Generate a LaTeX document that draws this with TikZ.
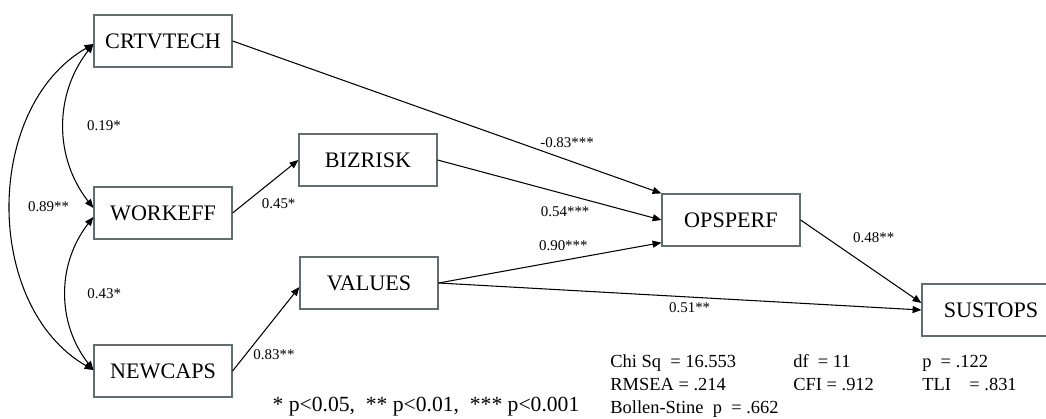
\documentclass[tikz,border=0pt]{standalone}
\usepackage{fontspec}
\setmainfont{Liberation Serif}
\usetikzlibrary{arrows.meta,positioning,calc}
\definecolor{boxgray}{RGB}{95,110,110}
\tikzset{
var/.style={draw=boxgray, line width=0.7pt, minimum width=2.76cm, minimum height=1.04cm, inner sep=0pt, font=\fontsize{12.6}{15}\selectfont},
effect/.style={-{Triangle[length=5pt,width=4pt]}, line width=0.6pt},
cov/.style={{Triangle[length=5pt,width=4pt]}-{Triangle[length=5pt,width=4pt]}, line width=0.6pt},
coef/.style={font=\fontsize{8.5}{10}\selectfont, inner sep=1pt},
}

\begin{document}
\begin{tikzpicture}[x=0.02cm, y=-0.02cm]
    \useasboundingbox (0,0) rectangle (1046,419);

    % variables
    \node[var] (CRTVTECH) at (163,41) {CRTVTECH};
    \node[var] (WORKEFF) at (163,213) {WORKEFF};
    \node[var] (NEWCAPS) at (163,371) {NEWCAPS};
    \node[var] (BIZRISK) at (368,160) {BIZRISK};
    \node[var] (VALUES) at (369,283) {VALUES};
    \node[var] (OPSPERF) at (731,220) {OPSPERF};
    \node[var] (SUSTOPS) at (991,310) {SUSTOPS};

    % correlations
    \draw[cov] ($(CRTVTECH.west)+(0,3)$) to[bend right=38]
        node[coef, midway, right=12pt] {0.19*} ($(WORKEFF.west)+(0,-5)$);
    \draw[cov] ($(WORKEFF.west)+(0,4)$) to[bend right=38]
        node[coef, midway, right=11pt] {0.43*} ($(NEWCAPS.west)+(0,-1)$);
    \draw[cov] ($(CRTVTECH.west)+(0,3)$) to[bend right=60]
        node[coef, midway, right=8.5pt] {0.89**} ($(NEWCAPS.west)+(0,-1)$);

    % paths
    \draw[effect] (WORKEFF.east) -- (BIZRISK.west)
        node[coef, pos=.7, below=11.5pt] {0.45*};
    \draw[effect] (NEWCAPS.east) -- ($(VALUES.west)+(0,4)$)
        node[coef, pos=.62, below=16pt] {0.83**};
    \draw[effect] (CRTVTECH.east) -- (OPSPERF.north west)
        node[coef, pos=.78, above=5.5pt] {-0.83***};
    \draw[effect] (BIZRISK.east) -- (OPSPERF.west)
        node[coef, pos=.57, below=5.5pt] {0.54***};
    \draw[effect] (VALUES.east) -- ($(OPSPERF.south west)+(0,-4)$)
        node[coef, pos=.56, above=4pt] {0.90***};
    \draw[effect] (VALUES.east) -- (SUSTOPS.west)
        node[coef, pos=.52, below=2pt] {0.51**};
    \draw[effect] (OPSPERF.east) -- ($(SUSTOPS.west)+(0,-7)$)
        node[coef, pos=.3, anchor=south west, xshift=8pt] {0.48**};

    % notes
    \node[anchor=base, font=\fontsize{12.3}{14}\selectfont] (sig) at (426,411)
        {* p<0.05,\ \ ** p<0.01,\ \ *** p<0.001};
    \node[anchor=base west, inner sep=0pt, font=\fontsize{10.5}{13.3}\selectfont] (fit) at (610,367)
        {\begin{tabular}[t]{@{}p{3.66cm}@{}p{2.58cm}@{}l@{}}
        Chi Sq\ \ = 16.553 & df\ \ = 11 & p\ \ = .122\\
        RMSEA = .214 & CFI = .912 & TLI\ \ \ \ = .831\\
        \multicolumn{3}{@{}l@{}}{Bollen-Stine\ \ p\ \ = .662}
        \end{tabular}};
\end{tikzpicture}
\end{document}
